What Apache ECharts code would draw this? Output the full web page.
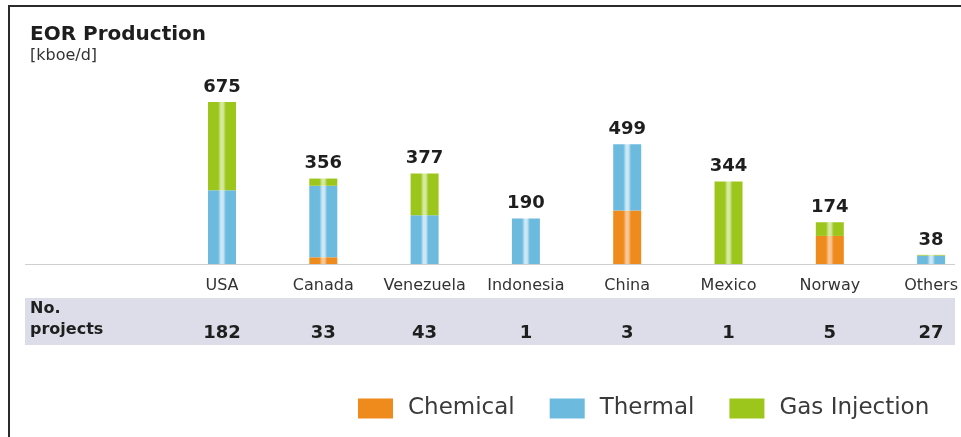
<!DOCTYPE html>
<html>
<head>
<meta charset="utf-8">
<script src="https://cdn.jsdelivr.net/npm/echarts@6/dist/echarts.min.js"></script>
<style>
html, body { margin: 0; padding: 0; background: #fff; }
#eor-chart { width: 961px; height: 437px; }
</style>
</head>
<body>
<div id="eor-chart"></div>
<script>
// values (kboe/d)
const countries = ['USA', 'Canada', 'Venezuela', 'Indonesia', 'China', 'Mexico', 'Norway', 'Others'];
const chemical = [0, 28, 0, 0, 223, 0, 117, 0];
const thermal = [307, 298, 203, 190, 276, 0, 0, 35];
const gasInjection = [368, 30, 174, 0, 0, 344, 57, 3];
const totals = [675, 356, 377, 190, 499, 344, 174, 38];
const projects = [182, 33, 43, 1, 3, 1, 5, 27];

const chartDom = document.getElementById('eor-chart');
const myChart = echarts.init(chartDom);

// bars have a light stripe down the middle
const stripe = (base, light) => new echarts.graphic.LinearGradient(0, 0, 1, 0, [
  { offset: 0, color: base },
  { offset: 0.36, color: base },
  { offset: 0.46, color: light },
  { offset: 0.54, color: light },
  { offset: 0.64, color: base },
  { offset: 1, color: base }
]);

const colors = {
  Chemical: ['#ef8a1d', '#f8c796'],
  Thermal: ['#6cbbdf', '#cde8f4'],
  'Gas Injection': ['#9dc61d', '#d5e9a1']
};

const stackSeries = (name, data) => ({
  name,
  type: 'bar',
  stack: 'eor',
  barWidth: 28,
  barGap: '-100%',
  itemStyle: { color: stripe(colors[name][0], colors[name][1]) },
  emphasis: { disabled: true },
  data
});

let option = {
  animation: false,
  title: {
    text: 'EOR Production',
    subtext: '[kboe/d]',
    left: 25,
    top: 20,
    itemGap: 3,
    textStyle: { fontFamily: 'DejaVu Sans', fontSize: 20, fontWeight: 'bold', color: '#1e1e1e' },
    subtextStyle: { fontFamily: 'DejaVu Sans', fontSize: 16, color: '#333' }
  },
  legend: {
    left: 353,
    top: 392,
    itemWidth: 35,
    itemHeight: 20,
    itemGap: 35,
    icon: 'rect',
    textStyle: {
      fontFamily: 'DejaVu Sans',
      fontSize: 23,
      color: '#3a3a3a',
      padding: [0, 0, 0, 10]
    },
    data: ['Chemical', 'Thermal', 'Gas Injection'].map(n => ({
      name: n,
      itemStyle: { color: colors[n][0] }
    }))
  },
  grid: {
    left: 222,
    right: 28,
    top: 96,
    bottom: 173
  },
  xAxis: [
    {
      type: 'category',
      data: countries,
      boundaryGap: false,
      axisLine: { show: false },
      axisTick: { show: false },
      axisLabel: {
        interval: 0,
        margin: 14,
        fontFamily: 'DejaVu Sans',
        fontSize: 16,
        color: '#333'
      }
    },
    {
      type: 'category',
      data: countries,
      position: 'bottom',
      offset: 46,
      boundaryGap: false,
      axisLine: { show: false },
      axisTick: { show: false },
      axisLabel: {
        interval: 0,
        margin: 14,
        fontFamily: 'DejaVu Sans',
        fontSize: 18,
        fontWeight: 'bold',
        color: '#1e1e1e',
        formatter: (v, i) => String(projects[i])
      }
    }
  ],
  yAxis: {
    type: 'value',
    min: 0,
    max: 700,
    show: false
  },
  graphic: [
    // frame lines (top + left)
    { type: 'rect', shape: { x: 8, y: 5, width: 953, height: 2 }, style: { fill: '#2b2b2b' } },
    { type: 'rect', shape: { x: 8, y: 5, width: 2, height: 432 }, style: { fill: '#2b2b2b' } },
    // baseline
    { type: 'rect', z: -5, shape: { x: 25, y: 264, width: 930, height: 1 }, style: { fill: '#cfcfcf' } },
    // projects band
    { type: 'rect', z: -5, shape: { x: 25, y: 298, width: 930, height: 47 }, style: { fill: '#dcdde8' } },
    {
      type: 'text', left: 30, top: 301,
      style: { text: 'No.', font: 'bold 16px "DejaVu Sans"', fill: '#1e1e1e' }
    },
    {
      type: 'text', left: 30, top: 322,
      style: { text: 'projects', font: 'bold 16px "DejaVu Sans"', fill: '#1e1e1e' }
    }
  ],
  series: [
    stackSeries('Chemical', chemical),
    stackSeries('Thermal', thermal),
    stackSeries('Gas Injection', gasInjection),
    {
      name: 'Total',
      type: 'bar',
      barWidth: 28,
      barGap: '-100%',
      silent: true,
      z: 1,
      itemStyle: { color: 'rgba(0,0,0,0)' },
      label: {
        show: true,
        position: 'top',
        distance: 6,
        fontFamily: 'DejaVu Sans',
        fontSize: 18,
        fontWeight: 'bold',
        color: '#1e1e1e'
      },
      data: totals
    }
  ]
};

option && myChart.setOption(option);
</script>
</body>
</html>
